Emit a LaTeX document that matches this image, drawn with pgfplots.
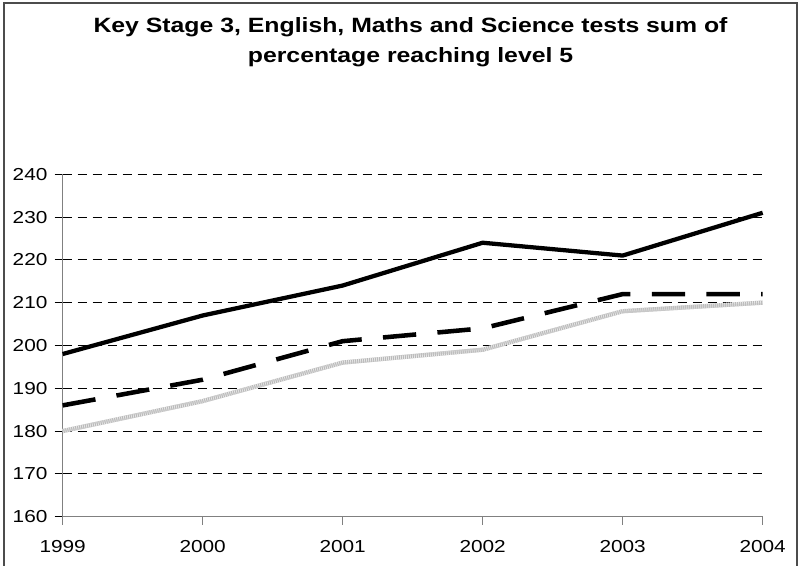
\documentclass[border=0pt]{standalone}
\usepackage{fontspec}
\setmainfont{Liberation Sans}
\usepackage{graphicx}
\usepackage{pgfplots}
\pgfplotsset{compat=1.18}
\usepackage{pgfplotstable}

% Sum of the English, Maths and Science percentages at level 5+
\pgfplotstableread{
year top middle bottom
1999 198 186 180
2000 207 192 187
2001 214 201 196
2002 224 204 199
2003 221 212 208
2004 231 212 210
}\scores

\begin{document}
\begin{tikzpicture}[x=1pt,y=1pt]
\useasboundingbox (0,0) rectangle (600,424.5);
% chart frame (open at the bottom)
\draw[black!70, line width=1.75pt] (3,-3) -- (3,422.4) -- (597.6,422.4) -- (597.6,-3);
% title
\node[anchor=base, font=\fontsize{15.5}{18}\selectfont\bfseries, xscale=1.2, inner sep=0pt]
  at (307.9,400) {Key Stage 3, English, Maths and Science tests sum of};
\node[anchor=base, font=\fontsize{15.5}{18}\selectfont\bfseries, xscale=1.2, inner sep=0pt]
  at (307.9,377.5) {percentage reaching level 5};

\begin{axis}[
  at={(47pt,37pt)}, anchor=south west,
  scale only axis, width=525pt, height=256.8pt,
  xmin=1999, xmax=2004, ymin=160, ymax=240,
  xtick={1999,2000,2001,2002,2003,2004},
  ytick={160,170,...,240},
  axis x line*=bottom, axis y line*=left,
  x axis line style={-, gray, line width=0.75pt},
  y axis line style={-, gray, line width=1.1pt},
  tick align=outside, major tick length=6pt,
  x tick style={gray, line width=0.75pt},
  y tick style={black, line width=0.75pt},
  ymajorgrids,
  major grid style={black, line width=0.6pt, dash pattern=on 6.75pt off 4.5pt},
  /pgf/number format/assume math mode=true,
  /pgf/number format/1000 sep={},
  tick label style={font=\fontsize{13}{15}\selectfont, xscale=1.2},
  xticklabel style={yshift=-8pt},
  yticklabel style={xshift=-1pt},
  clip=false,
]
\addplot[gray!55, line width=3.2pt] table[x=year, y=bottom] {\scores};
\addplot[white!80!gray, line width=3.2pt, dash pattern=on 0.6pt off 0.9pt] table[x=year, y=bottom] {\scores};
\addplot[black, line width=3.4pt, dash pattern=on 25pt off 16pt] table[x=year, y=middle] {\scores};
\addplot[black, line width=3.2pt, line join=round] table[x=year, y=top] {\scores};
\end{axis}
\end{tikzpicture}
\end{document}
